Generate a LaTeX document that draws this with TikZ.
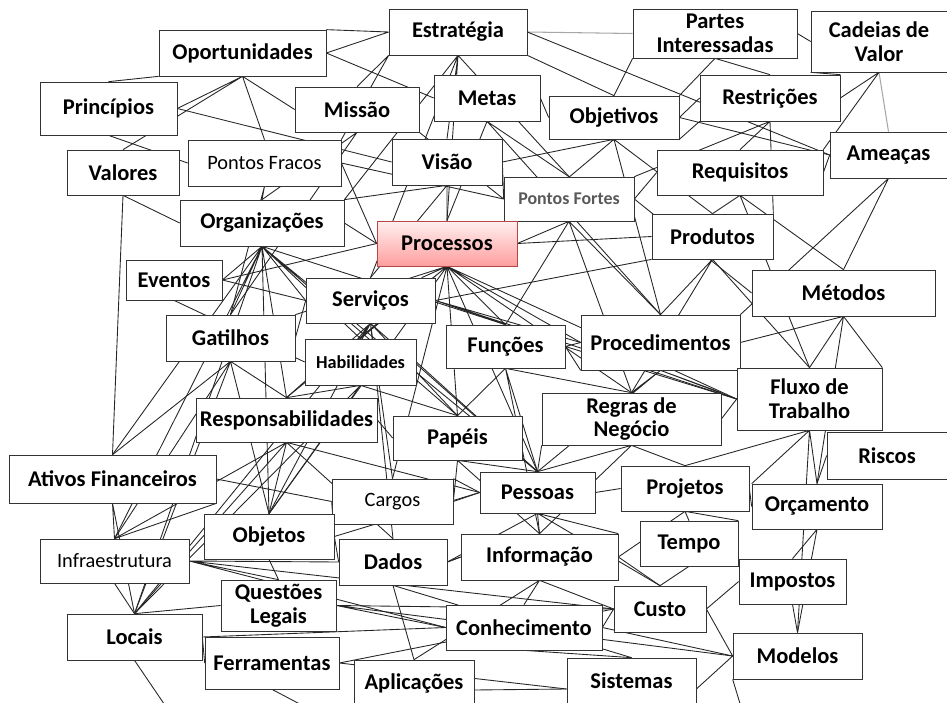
\documentclass[tikz,border=0pt]{standalone}
\usepackage{fontspec}
\setmainfont{Carlito}
\usetikzlibrary{backgrounds,shadows}

\begin{document}
\begin{tikzpicture}[x=0.02cm, y=-0.02cm,
        box/.style    = {draw=black!80, fill=white, inner sep=0pt, align=center,
                         font=\fontsize{12.8}{13.6}\selectfont\bfseries,
                         drop shadow={shadow xshift=0.7pt, shadow yshift=-0.7pt, fill=black!40, opacity=1}},
        plain/.style  = {box, font=\fontsize{11.6}{13}\selectfont},
        small/.style  = {box, font=\fontsize{10.4}{11}\selectfont\bfseries},
        link/.style   = {line width=0.5pt, black!85},
        faint/.style  = {line width=0.6pt, black!35}]
        \useasboundingbox (0,0) rectangle (947,703);
        \clip (0,0) rectangle (947,703);

        \node[box,   minimum width=2.76cm, minimum height=0.92cm] (est)      at (458,32)      {Estratégia};
        \node[box,   minimum width=3.28cm, minimum height=0.98cm] (partes)   at (715,33.5)    {Partes\\Interessadas};
        \node[box,   minimum width=2.72cm, minimum height=1.22cm] (cadeias)  at (879,41.5)    {Cadeias de\\Valor};
        \node[box,   minimum width=3.34cm, minimum height=0.92cm] (oport)    at (242.5,53)    {Oportunidades};
        \node[box,   minimum width=2.74cm, minimum height=1.06cm] (princ)    at (108.5,108.5) {Princípios};
        \node[box,   minimum width=2.48cm, minimum height=0.90cm] (missao)   at (357,109.5)   {Missão};
        \node[box,   minimum width=2.12cm, minimum height=0.92cm] (metas)    at (487,98)      {Metas};
        \node[box,   minimum width=2.60cm, minimum height=0.86cm] (objet)    at (614,117.5)   {Objetivos};
        \node[box,   minimum width=2.80cm, minimum height=0.92cm] (restr)    at (770,98)      {Restrições};
        \node[box,   minimum width=2.24cm, minimum height=0.90cm] (valores)  at (123,172.5)   {Valores};
        \node[plain, minimum width=3.06cm, minimum height=0.92cm] (pfracos)  at (264.5,163)   {Pontos Fracos};
        \node[box,   minimum width=2.20cm, minimum height=0.92cm] (visao)    at (447,162)     {Visão};
        \node[small, minimum width=2.60cm, minimum height=0.88cm, font=\fontsize{10.2}{11}\selectfont\bfseries,
              text=black!65] (pfortes) at (569,199) {Pontos Fortes};
        \node[box,   minimum width=3.32cm, minimum height=0.90cm] (requis)   at (740,172.5)   {Requisitos};
        \node[box,   minimum width=2.34cm, minimum height=0.92cm] (ameacas)  at (888.5,155)   {Ameaças};
        \node[box,   minimum width=3.28cm, minimum height=0.92cm] (org)      at (262,223)     {Organizações};
        \node[box,   minimum width=2.80cm, minimum height=0.90cm, draw=red!45!gray,
              top color=red!6, bottom color=red!38] (proc) at (447,243.5) {Processos};
        \node[box,   minimum width=2.42cm, minimum height=0.90cm] (produtos) at (712.5,236.5)  {Produtos};
        \node[box,   minimum width=1.92cm, minimum height=0.80cm] (eventos)  at (174,280)     {Eventos};
        \node[box,   minimum width=3.66cm, minimum height=0.92cm] (metodos)  at (843.5,293)   {Métodos};
        \node[box,   minimum width=2.58cm, minimum height=0.90cm] (serv)     at (370.5,300.5) {Serviços};
        \node[box,   minimum width=2.58cm, minimum height=0.92cm] (gat)      at (230.5,338)   {Gatilhos};
        \node[small, minimum width=2.22cm, minimum height=0.92cm] (habil)    at (360.5,362)   {Habilidades};
        \node[box,   minimum width=2.38cm, minimum height=0.86cm] (funcoes)  at (505.5,346.5) {Funções};
        \node[box,   minimum width=3.18cm, minimum height=1.10cm] (procd)    at (660.5,342.5) {Procedimentos};
        \node[box,   minimum width=2.90cm, minimum height=1.24cm] (fluxo)    at (809.5,399)   {Fluxo de\\Trabalho};
        \node[box,   minimum width=3.62cm, minimum height=0.88cm] (resp)     at (286.5,420)   {Responsabilidades};
        \node[box,   minimum width=2.58cm, minimum height=0.88cm] (papeis)   at (457.5,438)   {Papéis};
        \node[box,   minimum width=3.58cm, minimum height=1.04cm] (regras)   at (631.5,419)   {Regras de\\Negócio};
        \node[box,   minimum width=2.40cm, minimum height=0.94cm] (riscos)   at (887,455.5)   {Riscos};
        \node[box,   minimum width=4.14cm, minimum height=0.96cm] (ativos)   at (112.5,479)   {Ativos Financeiros};
        \node[plain, minimum width=2.42cm, minimum height=0.90cm] (cargos)   at (392.5,501.5) {Cargos};
        \node[box,   minimum width=2.30cm, minimum height=0.82cm] (pessoas)  at (537.5,492.5) {Pessoas};
        \node[box,   minimum width=2.56cm, minimum height=0.90cm] (projetos) at (685,488.5)   {Projetos};
        \node[box,   minimum width=2.60cm, minimum height=0.90cm] (orc)      at (817,506.5)   {Orçamento};
        \node[box,   minimum width=2.60cm, minimum height=0.90cm] (objetos)  at (269,536.5)   {Objetos};
        \node[plain, minimum width=2.98cm, minimum height=0.88cm] (infra)    at (114.5,561)   {Infraestrutura};
        \node[box,   minimum width=2.16cm, minimum height=0.92cm] (dados)    at (393,562)     {Dados};
        \node[box,   minimum width=3.14cm, minimum height=0.92cm] (info)     at (539.5,557)   {Informação};
        \node[box,   minimum width=1.96cm, minimum height=0.90cm] (tempo)    at (689,543.5)   {Tempo};
        \node[box,   minimum width=2.14cm, minimum height=0.90cm] (impostos) at (792.5,581.5) {Impostos};
        \node[box,   minimum width=2.30cm, minimum height=1.02cm] (questoes) at (278.5,605.5) {Questões\\Legais};
        \node[box,   minimum width=1.84cm, minimum height=0.92cm] (custo)    at (660,609)     {Custo};
        \node[box,   minimum width=2.70cm, minimum height=0.92cm] (locais)   at (134.5,637)   {Locais};
        \node[box,   minimum width=3.12cm, minimum height=0.90cm] (conhec)   at (524,627.5)   {Conhecimento};
        \node[box,   minimum width=2.68cm, minimum height=1.04cm] (ferr)     at (272,663)     {Ferramentas};
        \node[box,   minimum width=2.58cm, minimum height=0.92cm] (modelos)  at (797.5,656)   {Modelos};
        \node[box,   minimum width=2.40cm, minimum height=1.20cm] (aplic)    at (414,690)     {\raisebox{1.5ex}{Aplicações}};
        \node[box,   minimum width=2.58cm, minimum height=1.24cm] (sist)     at (631.5,689)   {\raisebox{1.5ex}{Sistemas}};

        \coordinate (off1) at (175,720);
        \coordinate (off2) at (330,720);
        \coordinate (off3) at (745,720);

        \begin{pgfonlayer}{background}
        \draw[faint] (est.east) -- (partes.west) (cadeias.south) -- (ameacas.north);
        \draw[link]  (partes.east) -- (cadeias.west);
        \draw[link]  (est.west) -- (oport.east) (est.west) -- (oport.north east)
                     (est.south west) -- (missao.north) (est.south west) -- (pfracos.north east)
                     (est.south) -- (visao.north) (est.south) -- (proc.north)
                     (est.south) -- (pfortes.north) (est.south) -- (org.north east)
                     (est.south east) -- (objet.north) (est.east) -- (ameacas.west)
                     (est.south) -- (serv.north);
        \draw[link]  (oport.east) -- (metas.west) (oport.south) -- (pfracos.north)
                     (oport.south) -- (missao.west) (oport.south) -- (princ.east)
                     (oport.south) -- (valores.north) (oport.south west) -- (princ.north);
        \draw[link]  (princ.east) -- (visao.west) (princ.south) -- (pfracos.west);
        \draw[link]  (valores.south) -- (ativos.north) (valores.south) -- (org.west);
        \draw[link]  (missao.south) -- (org.north) (missao.south east) -- (pfortes.west)
                     (missao.south) -- (gat.north);
        \draw[link]  (metas.south) -- (pfortes.north) (metas.south) -- (proc.north)
                     (metas.east) -- (objet.west) (metas.south) -- (procd.north);
        \draw[link]  (partes.south) -- (objet.north east) (partes.south) -- (restr.north)
                     (partes.south west) -- (objet.north);
        \draw[link]  (cadeias.south) -- (restr.east) (cadeias.south west) -- (restr.north east)
                     (cadeias.south) -- (requis.north east);
        \draw[link]  (objet.east) -- (restr.west) (objet.south east) -- (restr.south west)
                     (objet.east) -- (ameacas.west) (objet.south) -- (visao.east)
                     (objet.south) -- (proc.north east) (objet.south) -- (produtos.north)
                     (objet.south) -- (procd.north);
        \draw[link]  (restr.south) -- (requis.north) (restr.south) -- (produtos.north east)
                     (restr.south) -- (pfortes.north east);
        \draw[link]  (requis.east) -- (ameacas.west) (requis.south) -- (produtos.north)
                     (requis.south) -- (metodos.north) (requis.south) -- (fluxo.north)
                     (requis.west) -- (pfortes.east);
        \draw[link]  (ameacas.south) -- (metodos.north) (ameacas.south) -- (procd.north east);
        \draw[link]  (visao.south) -- (proc.north) (visao.south) -- (org.north east)
                     (visao.south) -- (serv.north) (visao.east) -- (pfortes.west);
        \draw[link]  (pfracos.east) -- (pfortes.west) (pfracos.south) -- (org.north)
                     (pfracos.south) -- (gat.north) (pfracos.east) -- (proc.west);
        \draw[link]  (pfortes.south) -- (funcoes.north) (pfortes.south) -- (proc.east)
                     (pfortes.south) -- (procd.north) (pfortes.east) -- (metodos.west)
                     (pfortes.south) -- (regras.north);
        \draw[link]  (proc.east) -- (produtos.west) (proc.west) -- (org.east)
                     (proc.south) -- (serv) (proc.south) -- (habil.north)
                     (proc.south) -- (funcoes.north) (proc.south) -- (papeis.north)
                     (proc.south) -- (pessoas.north) (proc.south) -- (regras.north)
                     (proc.south) -- (procd.west) (proc.south) -- (fluxo.west)
                     (proc.south) -- (resp.north) (proc.south) -- (gat.north east)
                     (proc.south) -- (objetos.north) (proc.south) -- (cargos.north);
        \draw[link]  (produtos.south) -- (procd.north) (produtos.south) -- (fluxo.north)
                     (produtos.south west) -- (serv.east) (produtos.south) -- (regras.north);
        \draw[link]  (org.south) -- (eventos.east) (org.south) -- (gat.north)
                     (org.south) -- (resp.north) (org.south) -- (habil.north)
                     (org.south) -- (serv.west) (org.south) -- (papeis.north)
                     (org.south) -- (pessoas.north) (org.south) -- (funcoes.north)
                     (org.south) -- (objetos.north) (org.south) -- (infra.north)
                     (org.south) -- (locais.north) (org.south) -- (ativos.north);
        \draw[link]  (eventos.east) -- (proc.west) (eventos.south) -- (habil.west)
                     (eventos.east) -- (serv.west);
        \draw[link]  (gat.east) -- (serv.west) (gat.south) -- (ativos.north)
                     (gat.south) -- (infra.north) (gat.south) -- (locais.north)
                     (gat.south) -- (objetos.north) (gat.south) -- (resp.north);
        \draw[link]  (serv.south) -- (habil.north) (serv.south) -- (papeis.north)
                     (serv.south) -- (resp.north) (serv.south) -- (pessoas.north)
                     (serv.south) -- (objetos.north) (serv.south) -- (locais.north)
                     (serv.south) -- (cargos.north) (serv.south) -- (dados.north)
                     (serv.east) -- (procd.west) (serv.east) -- (fluxo.west)
                     (serv.east) -- (funcoes.north);
        \draw[link]  (habil.south) -- (papeis.north) (habil.south) -- (locais.north)
                     (habil.south) -- (objetos.north) (habil.east) -- (pessoas.north)
                     (habil.south) -- (resp.north);
        \draw[link]  (funcoes.east) -- (procd.west) (funcoes.east) -- (procd.south west)
                     (funcoes.south) -- (pessoas.north) (funcoes.south) -- (papeis.north)
                     (funcoes.east) -- (fluxo.west) (funcoes.south) -- (regras.north)
                     (funcoes.south) -- (info.north);
        \draw[link]  (procd.east) -- (metodos.south) (procd.south) -- (regras.north)
                     (procd.south) -- (regras.north east) (procd.south) -- (pessoas.north)
                     (procd.south) -- (fluxo.west);
        \draw[link]  (metodos.south) -- (fluxo.north) (metodos.south) -- (fluxo.north east)
                     (metodos.south) -- (orc.north);
        \draw[link]  (fluxo.west) -- (regras.east) (fluxo.south) -- (orc.north)
                     (fluxo.south) -- (orc.north west) (fluxo.south) -- (projetos.north)
                     (fluxo.south) -- (modelos.north) (riscos.west) -- (orc.north);
        \draw[link]  (regras.south) -- (pessoas.north) (regras.south west) -- (pessoas.north)
                     (regras.south) -- (projetos.north) (regras.south) -- (info.north);
        \draw[link]  (resp.east) -- (papeis.west) (resp.south) -- (objetos.north)
                     (resp.south) -- (infra.north) (resp.south) -- (locais.north)
                     (resp.south) -- (pessoas.west) (resp.south) -- (dados.north);
        \draw[link]  (papeis.south) -- (pessoas.north) (papeis.south) -- (cargos.east)
                     (papeis.south) -- (info.north);
        \draw[link]  (ativos.east) -- (cargos.west) (ativos.south) -- (infra.north)
                     (ativos.south east) -- (infra.north) (ativos.south) -- (locais.north);
        \draw[link]  (cargos.east) -- (pessoas.west) (cargos.north east) -- (pessoas.west)
                     (pessoas.east) -- (projetos.west) (pessoas.south) -- (info.north)
                     (pessoas.south) -- (info.north east) (pessoas.south) -- (dados.east)
                     (pessoas.south) -- (custo.north);
        \draw[link]  (projetos.south) -- (tempo.north) (projetos.south) -- (tempo.north east)
                     (projetos.east) -- (orc.west) (projetos.south) -- (info.east);
        \draw[link]  (orc.south) -- (impostos.north) (orc.south) -- (modelos.north)
                     (tempo.south) -- (custo.north) (impostos.west) -- (custo.east)
                     (impostos.south) -- (modelos.north) (custo.east) -- (modelos.west)
                     (custo.west) -- (conhec.east) (custo.west) -- (info.south)
                     (info.east) -- (custo.north);
        \draw[link]  (info.south) -- (conhec.north) (info.west) -- (dados.east)
                     (info.south) -- (aplic.north) (conhec.east) -- (modelos.west)
                     (conhec.south) -- (sist.north) (sist.east) -- (modelos.west)
                     (aplic.east) -- (sist.west);
        \draw[link]  (ferr.east) -- (sist.west) (ferr.east) -- (custo.west)
                     (locais.east) -- (ferr.west) (locais.east) -- (conhec.west)
                     (locais.north) -- (questoes.west);
        \draw[link]  (infra.east) -- (dados.west) (infra.east) -- (conhec.west)
                     (infra.east) -- (questoes.north) (infra.south) -- (locais.north)
                     (infra.east) -- (custo.west);
        \draw[link]  (objetos.east) -- (cargos.west) (objetos.east) -- (pessoas.west)
                     (objetos.south) -- (questoes.north) (objetos.east) -- (dados.west);
        \draw[link]  (dados.east) -- (info.west) (dados.south) -- (sist.north)
                     (dados.south) -- (aplic.north);
        \draw[link]  (questoes.east) -- (conhec.west) (questoes.east) -- (modelos.west)
                     (questoes.east) -- (custo.west);
        \draw[link]  (modelos.south west) -- (off3) (locais.south) -- (off1)
                     (ferr.south) -- (off2);
        \end{pgfonlayer}
\end{tikzpicture}
\end{document}
